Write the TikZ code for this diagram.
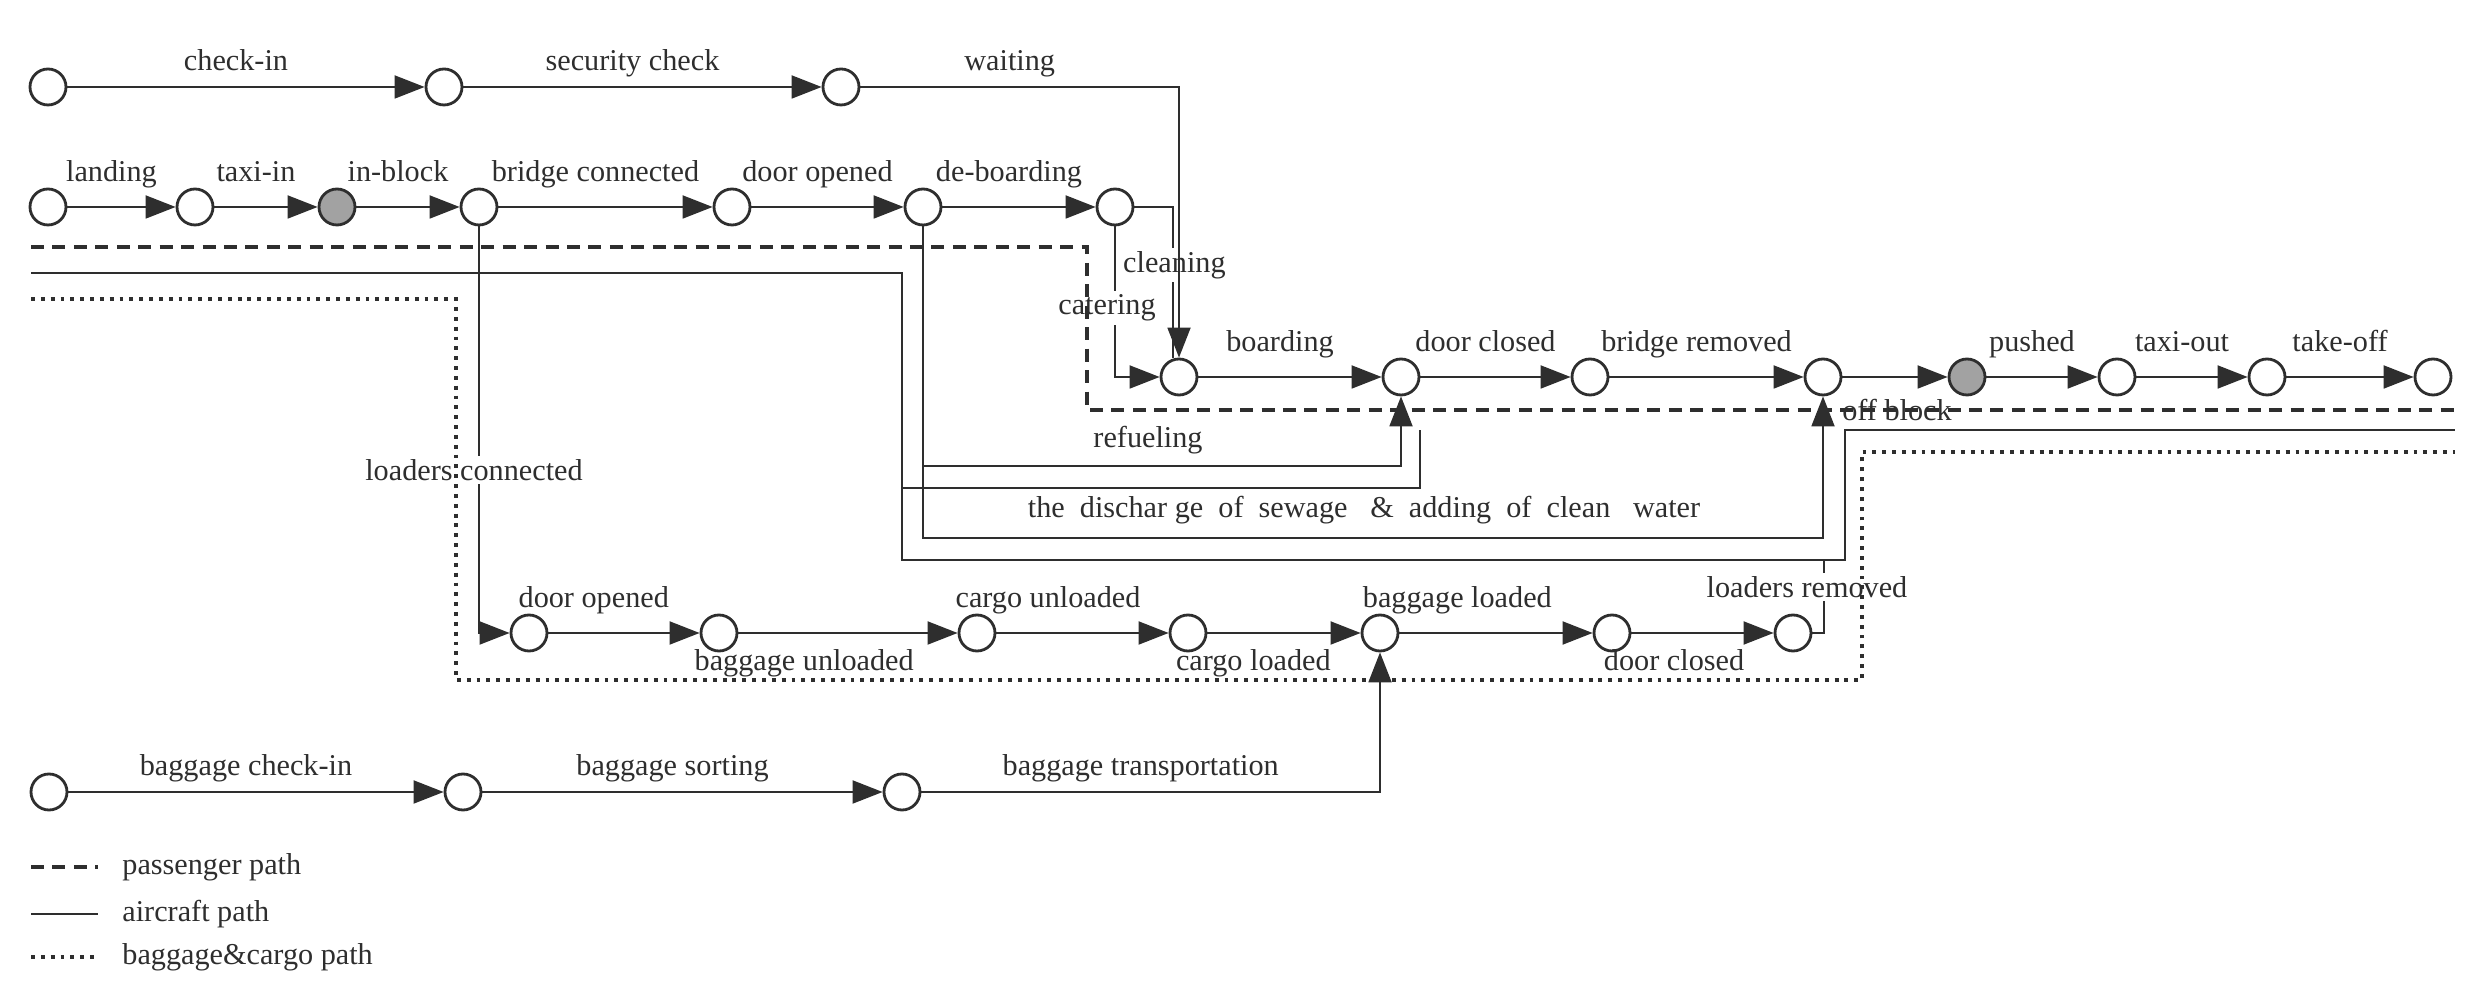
\documentclass[tikz,border=0pt]{standalone}
\usepackage{fontspec}
\setmainfont{Liberation Serif}
\usetikzlibrary{arrows.meta}
\definecolor{ink}{HTML}{2E2E2E}
\definecolor{shade}{HTML}{A2A2A2}

\begin{document}
\begin{tikzpicture}[x=0.1mm,y=-0.1mm,
font=\fontsize{8.6}{10}\selectfont,text=ink,
ev/.style={draw=ink,circle,fill=white,line width=0.8pt,minimum size=3.6mm,inner sep=0pt},
evg/.style={ev,fill=shade},
flow/.style={draw=ink,line width=0.55pt,-{Triangle[length=3mm,width=2.3mm]}},
link/.style={draw=ink,line width=0.55pt},
tag/.style={inner sep=1pt,text depth=.25em},
lbl/.style={tag,above=#1,xshift=-1mm},
lbl/.default=3.5pt,
lblu/.style={tag,above=3.5pt},
lblb/.style={tag,below=3.5pt},
gap/.style={fill=white,inner sep=1pt},
paxline/.style={draw=ink,line width=0.9pt,dash pattern=on 3.7pt off 2.4pt},
acline/.style={draw=ink,line width=0.55pt},
bagline/.style={draw=ink,line width=0.9pt,dash pattern=on 1.1pt off 1.7pt}]
\useasboundingbox (0,0) rectangle (2468,996);

% passengers
\node (c1) [ev] at (48,87) {};
\node (c2) [ev] at (444,87) {};
\node (c3) [ev] at (841,87) {};

% aircraft arrival
\node (a1) [ev] at (48,207) {};
\node (a2) [ev] at (195,207) {};
\node (a3) [evg] at (337,207) {};
\node (a4) [ev] at (479,207) {};
\node (a5) [ev] at (732,207) {};
\node (a6) [ev] at (923,207) {};
\node (a7) [ev] at (1115,207) {};

% aircraft departure
\node (b1) [ev] at (1179,377) {};
\node (b2) [ev] at (1401,377) {};
\node (b3) [ev] at (1590,377) {};
\node (b4) [ev] at (1823,377) {};
\node (b5) [evg] at (1967,377) {};
\node (b6) [ev] at (2117,377) {};
\node (b7) [ev] at (2267,377) {};
\node (b8) [ev] at (2433,377) {};

% loading
\node (d1) [ev] at (529,633) {};
\node (d2) [ev] at (719,633) {};
\node (d3) [ev] at (977,633) {};
\node (d4) [ev] at (1188,633) {};
\node (d5) [ev] at (1380,633) {};
\node (d6) [ev] at (1612,633) {};
\node (d7) [ev] at (1793,633) {};

% baggage
\node (e1) [ev] at (49,792) {};
\node (e2) [ev] at (463,792) {};
\node (e3) [ev] at (902,792) {};

\draw[flow] (c1) -- node[lbl=1pt] (lchk) {check-in} (c2);
\draw[flow] (c2) -- node[lbl=1pt] (lsec) {security check} (c3);

\draw[flow] (a1) -- node[lbl] (lland) {landing} (a2);
\draw[flow] (a2) -- node[lbl] (ltaxi) {taxi-in} (a3);
\draw[flow] (a3) -- node[lbl] (linb) {in-block} (a4);
\draw[flow] (a4) -- node[lbl] (lbrc) {bridge connected} (a5);
\draw[flow] (a5) -- node[lbl] (ldop) {door opened} (a6);
\draw[flow] (a6) -- node[lbl] (ldeb) {de-boarding} (a7);

\draw[link] (a7.east) -| ([xshift=-0.6mm]b1.north);
\node (clean) [gap,anchor=west] at (1119,265) {cleaning};
\draw[flow] (c3) -| (b1.north) node[lbl=1pt,pos=.25] (lwait) {waiting};
\draw[flow] (a7.south) |- (b1.west);
\node (cater) [gap] at (1107,308) {catering};

\draw[flow] (b1) -- node[lbl] (lboard) {boarding} (b2);
\draw[flow] (b2) -- node[lbl] (ldcl) {door closed} (b3);
\draw[flow] (b3) -- node[lbl] (lbrr) {bridge removed} (b4);
\draw[flow] (b4) -- (b5);
\draw[flow] (b5) -- node[lbl] (lpush) {pushed} (b6);
\draw[flow] (b6) -- node[lbl] (ltxo) {taxi-out} (b7);
\draw[flow] (b7) -- node[lbl] (ltko) {take-off} (b8);
\node (offblk) at (1897,410) {off block};

\coordinate (fork) at (923,466);
\draw[flow] (a6.south) -- (fork) -| (b2.south);
\draw[flow] (fork) -- (923,538) -| (b4.south);
\node (refuel) at (1148,440) {refueling};
\node (sewage) at (1364,510) {the~~dischar~ge~~of~~sewage~~~\&~~adding~~of~~clean~~~water};

\draw[flow] (a4.south) |- (d1.west);
\node (ldcon) [gap] at (474,470) {loaders connected};

\draw[flow] (d1) -- node[lblu,pos=.3] (lbdo) {door opened} (d2);
\draw[flow] (d2) -- node[lblb,pos=.3] (lbun) {baggage unloaded} (d3);
\draw[flow] (d3) -- node[lblu,pos=.3] (lcun) {cargo unloaded} (d4);
\draw[flow] (d4) -- node[lblb,pos=.3] (lclo) {cargo loaded} (d5);
\draw[flow] (d5) -- node[lblu,pos=.3] (lblo) {baggage loaded} (d6);
\draw[flow] (d6) -- node[lblb,pos=.3] (lbdc) {door closed} (d7);
\draw[link] (d7.east) -| (1824,560);
\node (ldrem) [gap] at (1807,587) {loaders removed};

\draw[flow] (e1) -- node[lbl=1pt] (lbci) {baggage check-in} (e2);
\draw[flow] (e2) -- node[lbl=1pt] (lbso) {baggage sorting} (e3);
\draw[flow] (e3) -| (d5.south) node[lbl=1pt,pos=.25] (lbtr) {baggage transportation};

% path borders
\draw[paxline] (31,247) -| (1087,410) -- (2455,410);
\draw[acline] (31,273) -- (902,273) -- (902,560) -- (1845,560) -- (1845,430) -- (2455,430);
\draw[acline] (902,488) -- (1420,488) -- (1420,430);
\draw[bagline] (31,299) -| (456,680) -| (1862,452) -- (2455,452);

% legend
\draw[paxline] (31,867) -- (98,867);
\node (lgpax) [anchor=west] at (110,867) {passenger path};
\draw[acline] (31,914) -- (98,914);
\node (lgac) [anchor=west] at (110,914) {aircraft path};
\draw[bagline] (31,957) -- (98,957);
\node (lgbag) [anchor=west] at (110,957) {baggage\&cargo path};
\end{tikzpicture}
\end{document}
